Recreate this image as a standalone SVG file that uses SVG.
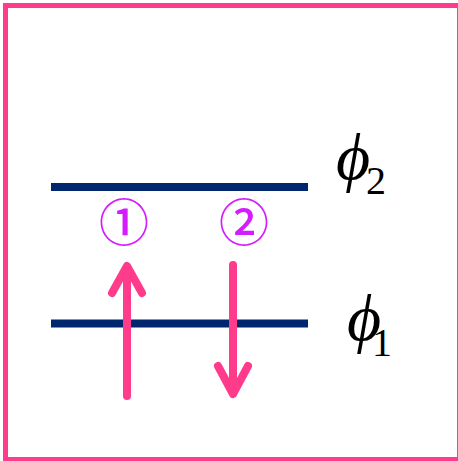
<svg xmlns="http://www.w3.org/2000/svg" width="458" height="461" viewBox="0 0 458 461">
<style>
.level{stroke:#00266e;stroke-width:8;fill:none}
.arrow{stroke:#ff3b8c;stroke-width:8;fill:none;stroke-linecap:round;stroke-linejoin:round}
.num{font-family:"Noto Sans CJK JP","DejaVu Sans",sans-serif;font-size:50px;font-weight:500;fill:#d41cff;text-anchor:middle}
.phi{font-family:"Liberation Serif","Times New Roman",serif;font-style:italic;font-size:66px;fill:#000}
.sub{font-style:normal;font-size:40px}
</style>
<rect x="5.5" y="5.5" width="454" height="454" fill="#fff" stroke="#ff3b8c" stroke-width="5"/>
<g id="level2"><line class="level" x1="51" y1="187" x2="308" y2="187"/></g>
<g id="level1"><line class="level" x1="51" y1="323.5" x2="308" y2="323.5"/></g>
<g id="label2"><text class="phi" x="336" y="179">ϕ<tspan class="sub" x="366" y="194">2</tspan></text></g>
<g id="label1"><text class="phi" x="347" y="340">ϕ<tspan class="sub" x="372" y="356">1</tspan></text></g>
<g id="n1"><text class="num" x="124" y="241">①</text></g>
<g id="n2"><text class="num" x="244" y="241">②</text></g>
<g id="connectors">
<path class="arrow" d="M127 396V267M112 293L127 266L142 293"/>
<path class="arrow" d="M233 265V393M218 366L233 394L248 366"/>
</g>
</svg>
